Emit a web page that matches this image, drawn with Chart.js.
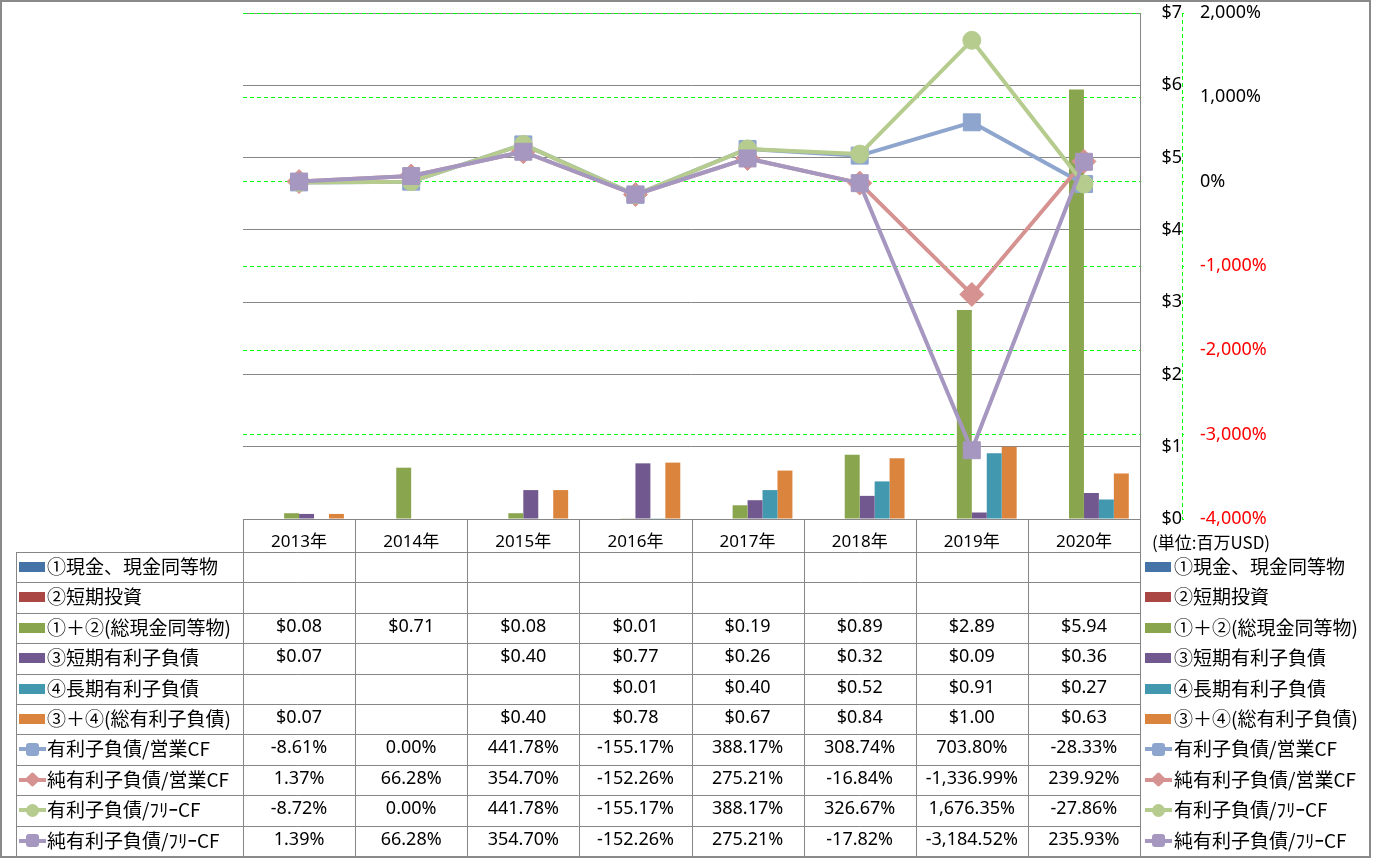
<!DOCTYPE html>
<html>
<head>
<meta charset="utf-8">
<title>有利子負債</title>
<script src="https://cdn.jsdelivr.net/npm/chart.js@4.4.1/dist/chart.umd.min.js"></script>
<style>
    body { margin: 0; background: #fff; }
    #wrap { position: relative; width: 1373px; height: 858px; overflow: hidden; }
    #frame { position: absolute; left: 0; top: 0; width: 1371px; height: 858px; box-sizing: border-box; border: 2px solid #8a8a8a; pointer-events: none; }
    #chart { position: absolute; left: 0; top: 0; }
    .cell { position: absolute; height: 30px; line-height: 30px; font: 18px 'Noto Sans', 'Noto Sans CJK JP'; color: #000; text-align: center; white-space: nowrap; }
    .lbl { position: absolute; height: 30px; line-height: 30px; font: 19px 'Noto Sans CJK JP'; color: #000; white-space: nowrap; }
    .sw { position: absolute; width: 27px; height: 14px; }
    .unit { position: absolute; left: 1152px; top: 529px; font: 17px 'Noto Sans CJK JP'; color: #000; white-space: nowrap; }
</style>
</head>
<body>
<div id="wrap">
    <canvas id="chart" width="1373" height="858"></canvas>
    <div class="unit">(単位:百万USD)</div>
    <div id="frame"></div>
</div>
<script>
// ========== DATA ========== //
const years = ["2013年", "2014年", "2015年", "2016年", "2017年", "2018年", "2019年", "2020年"];

const cashEq = [null, null, null, null, null, null, null, null];
const shortInvest = [null, null, null, null, null, null, null, null];
const totalCash = [0.08, 0.71, 0.08, 0.01, 0.19, 0.89, 2.89, 5.94];
const shortDebt = [0.07, null, 0.40, 0.77, 0.26, 0.32, 0.09, 0.36];
const longDebt = [null, null, null, 0.01, 0.40, 0.52, 0.91, 0.27];
const totalDebt = [0.07, null, 0.40, 0.78, 0.67, 0.84, 1.00, 0.63];

const debtOpCF = [-8.61, 0.00, 441.78, -155.17, 388.17, 308.74, 703.80, -28.33];
const netDebtOpCF = [1.37, 66.28, 354.70, -152.26, 275.21, -16.84, -1336.99, 239.92];
const debtFreeCF = [-8.72, 0.00, 441.78, -155.17, 388.17, 326.67, 1676.35, -27.86];
const netDebtFreeCF = [1.39, 66.28, 354.70, -152.26, 275.21, -17.82, -3184.52, 235.93];

const dollarTicks = [0, 1, 2, 3, 4, 5, 6, 7];
const pctTicks = [-4000, -3000, -2000, -1000, 0, 1000, 2000];

const GRID = "#868686";
const FONT = "'Noto Sans', 'Noto Sans CJK JP'";

const barSeries = [
    { label: "①現金、現金同等物", data: cashEq, color: "#4572A7" },
    { label: "②短期投資", data: shortInvest, color: "#AA4643" },
    { label: "①＋②(総現金同等物)", data: totalCash, color: "#89A54E" },
    { label: "③短期有利子負債", data: shortDebt, color: "#71588F" },
    { label: "④長期有利子負債", data: longDebt, color: "#4198AF" },
    { label: "③＋④(総有利子負債)", data: totalDebt, color: "#DB843D" }
];
const lineSeries = [
    { label: "有利子負債/営業CF", data: debtOpCF, color: "#8EA5CE", style: "rect", radius: 12 },
    { label: "純有利子負債/営業CF", data: netDebtOpCF, color: "#D59290", style: "rectRot", radius: 12 },
    { label: "有利子負債/ﾌﾘｰCF", data: debtFreeCF, color: "#B6CC8F", style: "circle", radius: 9 },
    { label: "純有利子負債/ﾌﾘｰCF", data: netDebtFreeCF, color: "#A597C0", style: "rect", radius: 12 }
];

const datasets = [];
barSeries.forEach(s => {
    datasets.push({
        type: "bar",
        label: s.label,
        data: s.data,
        backgroundColor: s.color,
        yAxisID: "y",
        order: 10,
        categoryPercentage: 0.8,
        barPercentage: 1
    });
});
lineSeries.forEach((s, i) => {
    datasets.push({
        type: "line",
        label: s.label,
        data: s.data,
        borderColor: s.color,
        backgroundColor: s.color,
        borderWidth: 4,
        borderJoinStyle: "round",
        borderCapStyle: "round",
        pointStyle: s.style,
        pointRadius: s.radius,
        pointBorderWidth: 1,
        pointBackgroundColor: s.color,
        pointBorderColor: s.color,
        yAxisID: "pct",
        order: 4 - i,
        clip: false
    });
});

// ========== TABLE LINES ========== //
const ROW_TOP = 552, ROW_H = 30.4, TABLE_LEFT = 16;

const tableLines = {
    id: "tableLines",
    afterDraw(chart) {
        const { ctx, chartArea } = chart;
        const colW = (chartArea.right - chartArea.left) / years.length;
        const bottom = ROW_TOP + ROW_H * 10;
        ctx.save();
        ctx.strokeStyle = GRID;
        ctx.lineWidth = 1;
        ctx.beginPath();
        for (let i = 0; i <= years.length; i++) {
            const px = Math.round(chartArea.left + i * colW) + 0.5;
            ctx.moveTo(px, chartArea.bottom);
            ctx.lineTo(px, bottom);
        }
        ctx.moveTo(TABLE_LEFT + 0.5, ROW_TOP);
        ctx.lineTo(TABLE_LEFT + 0.5, bottom);
        for (let r = 0; r <= 10; r++) {
            const py = Math.round(ROW_TOP + r * ROW_H) + 0.5;
            ctx.moveTo(TABLE_LEFT, py);
            ctx.lineTo(Math.round(chartArea.right) + 1, py);
        }
        ctx.stroke();

        // dashed axis line of the percent scale
        const p = chart.scales.pct;
        ctx.strokeStyle = "#00FF00";
        ctx.setLineDash([4, 3]);
        ctx.beginPath();
        ctx.moveTo(Math.round(p.left) + 0.5, chartArea.top);
        ctx.lineTo(Math.round(p.left) + 0.5, chartArea.bottom);
        ctx.stroke();
        ctx.restore();
    }
};

const noPad = s => { s.paddingTop = 0; s.paddingBottom = 0; };

const chart = new Chart(document.getElementById("chart"), {
    data: { labels: years, datasets: datasets },
    options: {
        responsive: false,
        animation: false,
        layout: { padding: { left: 243, top: 13, right: 0, bottom: 858 - 552 } },
        plugins: { legend: { display: false }, tooltip: { enabled: false } },
        scales: {
            x: {
                grid: { display: false },
                border: { color: GRID },
                ticks: { color: "#000", font: { family: FONT, size: 17 }, padding: 5, maxRotation: 0 },
                afterFit: s => { s.height = 33; s.paddingLeft = 0; s.paddingRight = 0; }
            },
            y: {
                position: "right",
                min: 0, max: 7,
                afterBuildTicks: s => { s.ticks = dollarTicks.map(v => ({ value: v })); },
                ticks: {
                    color: "#000",
                    font: { family: FONT, size: 18 },
                    crossAlign: "far",
                    padding: 20,
                    callback: v => "$" + v
                },
                grid: { color: GRID, drawTicks: false },
                border: { color: GRID },
                afterFit: s => { s.width = 42; noPad(s); }
            },
            pct: {
                position: "right",
                min: -4000, max: 2000,
                afterBuildTicks: s => { s.ticks = pctTicks.map(v => ({ value: v })); },
                ticks: {
                    color: c => c.tick.value < 0 ? "#FF0000" : "#000",
                    font: { family: FONT, size: 18 },
                    padding: 14,
                    callback: v => v.toLocaleString("en-US") + "%"
                },
                grid: { color: "#00FF00", tickColor: "#00FF00", tickLength: 4, tickBorderDash: [2, 2] },
                border: { display: false, dash: [4, 3] },
                afterFit: s => { s.width = 1373 - 1182; noPad(s); }
            }
        }
    },
    plugins: [tableLines]
});

// ========== TABLE TEXT + LEGEND ========== //
const wrap = document.getElementById("wrap");
const area = chart.chartArea;

function swatch(s, isLine, left, top) {
    const sw = document.createElement("div");
    sw.className = "sw";
    sw.style.left = left + "px";
    sw.style.top = top + "px";
    if (!isLine) {
        sw.innerHTML = `<div style="position:absolute;left:0;top:2px;width:26px;height:10px;background:${s.color}"></div>`;
    } else {
        let shape = "border-radius:3px;";
        let size = 13;
        if (s.style === "circle") shape = "border-radius:50%;";
        if (s.style === "rectRot") { shape = "transform:rotate(45deg);border-radius:2px;"; size = 11; }
        const off = (27 - size) / 2, offY = (14 - size) / 2;
        sw.innerHTML = `<div style="position:absolute;left:0;top:5px;width:27px;height:4px;background:${s.color}"></div>` +
            `<div style="position:absolute;left:${off}px;top:${offY}px;width:${size}px;height:${size}px;background:${s.color};${shape}"></div>`;
    }
    wrap.appendChild(sw);
}

function label(text, left, top) {
    const d = document.createElement("div");
    d.className = "lbl";
    d.style.left = left + "px";
    d.style.top = top + "px";
    d.textContent = text;
    wrap.appendChild(d);
}

const rows = barSeries.map(s => ({ s, isLine: false })).concat(lineSeries.map(s => ({ s, isLine: true })));
const colW = (area.right - area.left) / years.length;

rows.forEach((row, r) => {
    const top = ROW_TOP + r * ROW_H;
    swatch(row.s, row.isLine, 19, top + 8);
    label(row.s.label, 47, top);
    swatch(row.s, row.isLine, 1145, top + 8);
    label(row.s.label, 1174, top);

    row.s.data.forEach((v, i) => {
        if (v === null) return;
        const txt = row.isLine
            ? v.toLocaleString("en-US", { minimumFractionDigits: 2, maximumFractionDigits: 2 }) + "%"
            : "$" + v.toFixed(2);
        const d = document.createElement("div");
        d.className = "cell";
        d.style.left = (area.left + i * colW) + "px";
        d.style.width = colW + "px";
        d.style.top = top + "px";
        d.textContent = txt;
        wrap.appendChild(d);
    });
});
</script>
</body>
</html>
